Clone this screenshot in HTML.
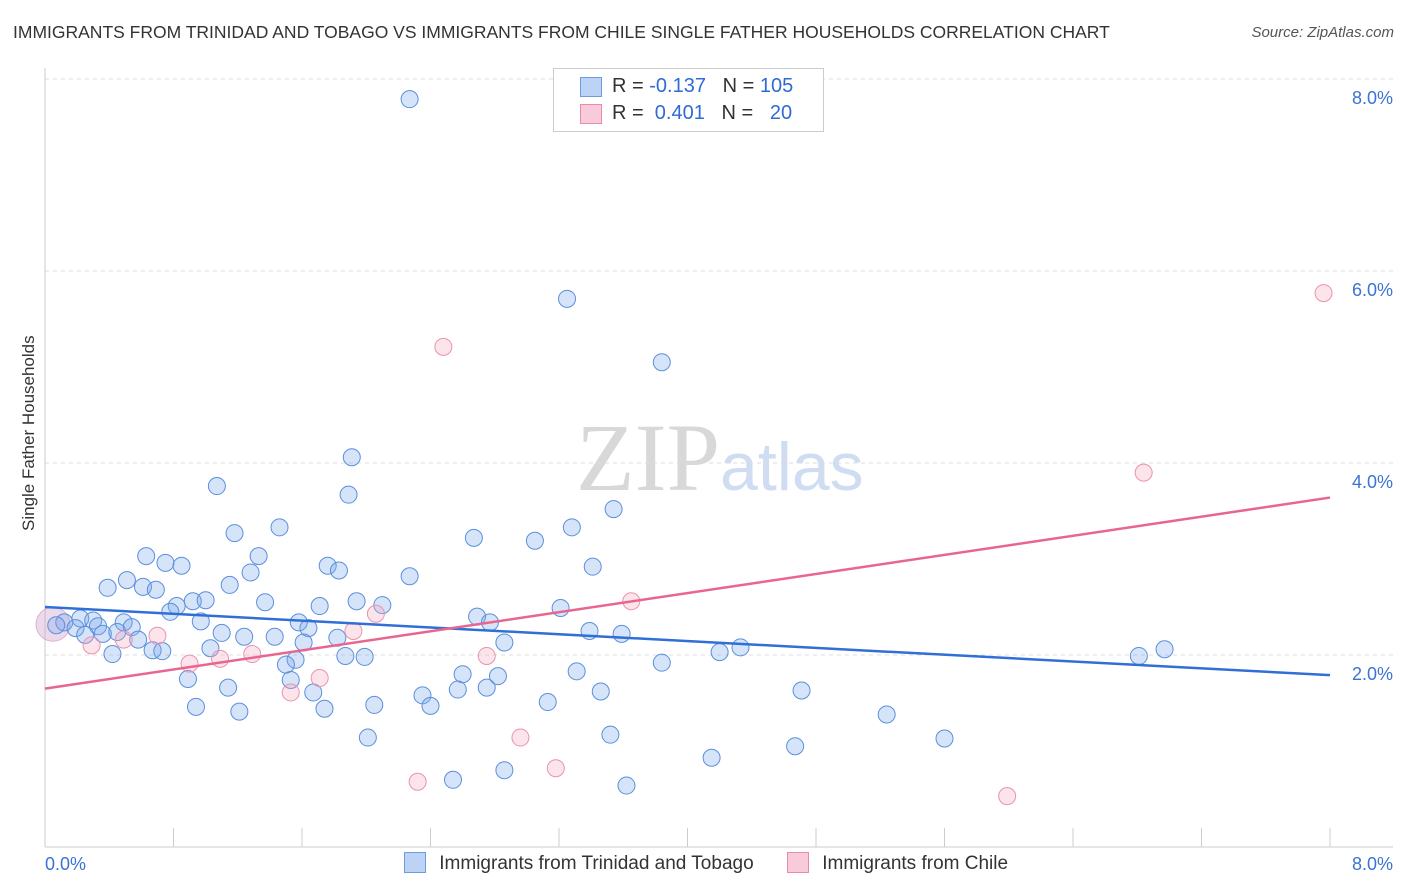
<!DOCTYPE html>
<html><head><meta charset="utf-8">
<style>
body{margin:0;background:#fff;font-family:"Liberation Sans",sans-serif;}
#wrap{position:relative;width:1406px;height:892px;overflow:hidden;}
.t{position:absolute;white-space:nowrap;}
</style></head>
<body>
<div id="wrap">
<div class="t" style="left:13px;top:22px;font-size:17.5px;color:#333;">IMMIGRANTS FROM TRINIDAD AND TOBAGO VS IMMIGRANTS FROM CHILE SINGLE FATHER HOUSEHOLDS CORRELATION CHART</div>
<div class="t" style="right:12px;top:24px;font-size:15px;color:#555;font-style:italic;">Source: ZipAtlas.com</div>
<div class="t" style="left:-46px;top:446px;font-size:17px;color:#333;transform:rotate(-90deg);width:150px;text-align:center;">Single Father Households</div>
<svg id="plot" width="1406" height="892" style="position:absolute;left:0;top:0">
<text x="720" y="490" text-anchor="end" font-family="Liberation Serif,serif" font-size="96" fill="#d8d8d8">ZIP</text>
<text x="720" y="490" font-family="Liberation Sans,sans-serif" font-size="68" fill="#cfdcf2">atlas</text>
</svg>
<div style="position:absolute;left:553px;top:68px;width:269px;height:62px;border:1px solid #ccc;background:#fff;font-size:20px;">
<div style="position:absolute;left:26px;top:8px;width:20px;height:18px;background:#bcd3f5;border:1px solid #6d9de0;"></div>
<div class="t" style="left:58px;top:6px;color:#333;">R = <span style="color:#2f6bd3">-0.137</span>&nbsp;&nbsp;&nbsp;N = <span style="color:#2f6bd3">105</span></div>
<div style="position:absolute;left:26px;top:35px;width:20px;height:18px;background:#f9cbda;border:1px solid #e88aab;"></div>
<div class="t" style="left:58px;top:33px;color:#333;">R = &nbsp;<span style="color:#2f6bd3">0.401</span>&nbsp;&nbsp;&nbsp;N = &nbsp;&nbsp;<span style="color:#2f6bd3">20</span></div>
</div>
<div style="position:absolute;left:404px;top:852px;font-size:19px;color:#333;">
<span style="display:inline-block;width:20px;height:19px;background:#bcd3f5;border:1px solid #6d9de0;vertical-align:-4px;"></span>
<span style="margin-left:8px;">Immigrants from Trinidad and Tobago</span>
<span style="display:inline-block;width:20px;height:19px;background:#f9cbda;border:1px solid #e88aab;vertical-align:-4px;margin-left:28px;"></span>
<span style="margin-left:8px;">Immigrants from Chile</span>
</div>
</div>
<script>
const blueX=[2.27,3.25,3.84,1.91,1.07,1.89,3.54,1.18,1.46,3.28,2.67,3.05,0.63,1.33,0.75,0.85,1.76,3.41,1.28,1.83,0.51,2.27,0.39,0.61,0.69,1.15,0.92,1.00,1.37,1.94,2.10,0.82,0.78,1.71,3.21,2.69,2.77,0.97,1.58,1.64,0.12,0.22,0.30,0.19,0.07,0.33,0.49,0.54,0.25,0.36,0.45,0.58,1.10,1.24,1.43,1.82,3.39,3.59,2.86,0.67,0.73,0.42,1.03,1.61,4.33,4.20,1.87,1.99,1.56,1.50,3.84,3.31,2.60,6.97,6.81,0.89,1.53,2.82,1.14,1.67,2.57,2.75,3.46,4.71,2.35,3.13,2.05,2.40,0.94,1.21,1.74,5.24,3.52,2.01,5.60,4.67,4.15,2.86,2.54,3.62];
const blueY=[7.79,5.71,5.05,4.06,3.76,3.67,3.52,3.27,3.33,3.33,3.22,3.19,3.03,3.03,2.96,2.93,2.93,2.92,2.86,2.88,2.78,2.82,2.70,2.71,2.68,2.73,2.56,2.57,2.55,2.56,2.52,2.51,2.45,2.51,2.49,2.40,2.34,2.35,2.34,2.28,2.34,2.38,2.36,2.28,2.31,2.30,2.34,2.29,2.21,2.22,2.24,2.16,2.23,2.19,2.19,2.18,2.25,2.22,2.13,2.05,2.04,2.01,2.07,2.13,2.08,2.03,1.99,1.98,1.95,1.90,1.92,1.83,1.80,2.06,1.99,1.75,1.74,1.78,1.66,1.61,1.64,1.66,1.62,1.63,1.58,1.51,1.48,1.47,1.46,1.41,1.44,1.38,1.17,1.14,1.13,1.05,0.93,0.80,0.70,0.64];
const pinkX=[7.96,2.48,6.84,3.65,2.06,1.92,0.70,0.29,0.49,1.29,1.09,0.90,2.75,1.71,1.53,2.96,3.18,2.32,5.99];
const pinkY=[5.77,5.21,3.90,2.56,2.43,2.25,2.20,2.10,2.16,2.01,1.96,1.91,1.99,1.76,1.61,1.14,0.82,0.68,0.53];
const blueTrend=[2.50,1.79];
const pinkTrend=[1.65,3.64];
const yTicks=[2,4,6,8];
const yTickLabels=["2.0%","4.0%","6.0%","8.0%"];
const xTickVals=[0,0.8,1.6,2.4,3.2,4.0,4.8,5.6,6.4,7.2,8.0];
const xLabels=["0.0%","8.0%"];

const X0=45,X1=1330,Y0=847,PPY=96;
const sx=v=>X0+v*(X1-X0)/8;
const sy=v=>Y0-v*PPY;
const svg=document.getElementById('plot');
const NS='http://www.w3.org/2000/svg';
function mk(tag,attrs){const e=document.createElementNS(NS,tag);for(const k in attrs)e.setAttribute(k,attrs[k]);svg.appendChild(e);return e;}

yTicks.forEach((v,i)=>{
 const g=mk('line',{x1:45,x2:1393,y1:sy(v),y2:sy(v),stroke:'#ddd','stroke-dasharray':'4,4'});
 
 
 const t=mk('text',{x:1393,y:sy(v)+25,'text-anchor':'end','font-size':18,fill:'#3b73d4','font-family':'Liberation Sans,sans-serif'});
 t.textContent=yTickLabels[i];
 
 
});
const ax=mk('line',{x1:45,x2:1393,y1:Y0,y2:Y0,stroke:'#ccc'});


const ay=mk('line',{x1:45,x2:45,y1:68,y2:Y0,stroke:'#ccc'});


xTickVals.forEach(v=>{
 const l=mk('line',{x1:sx(v),x2:sx(v),y1:828,y2:Y0,stroke:'#ccc'});
 
 
});
const xl0=mk('text',{x:45,y:870,'font-size':18,fill:'#3b73d4','font-family':'Liberation Sans,sans-serif'});
xl0.textContent=xLabels[0];


const xl1=mk('text',{x:1393,y:870,'text-anchor':'end','font-size':18,fill:'#3b73d4','font-family':'Liberation Sans,sans-serif'});
xl1.textContent=xLabels[1];



const big=mk('circle',{cx:sx(0.05),cy:sy(2.32),r:17,fill:'rgba(200,150,200,0.35)',stroke:'rgba(200,140,190,0.6)'});


blueX.forEach((x,i)=>{
 const c=mk('circle',{cx:sx(x),cy:sy(blueY[i]),r:8.5,fill:'rgba(120,165,235,0.3)',stroke:'#5b8fdc','stroke-width':1});
 
 
});
pinkX.forEach((x,i)=>{
 const c=mk('circle',{cx:sx(x),cy:sy(pinkY[i]),r:8.5,fill:'rgba(245,165,190,0.3)',stroke:'#eb92b0','stroke-width':1});
 
 
});
const bl=mk('line',{x1:sx(0),y1:sy(blueTrend[0]),x2:sx(8),y2:sy(blueTrend[1]),stroke:'#2f6fd6','stroke-width':2.5});


const pl=mk('line',{x1:sx(0),y1:sy(pinkTrend[0]),x2:sx(8),y2:sy(pinkTrend[1]),stroke:'#e8658f','stroke-width':2.5});


</script>
</body></html>
